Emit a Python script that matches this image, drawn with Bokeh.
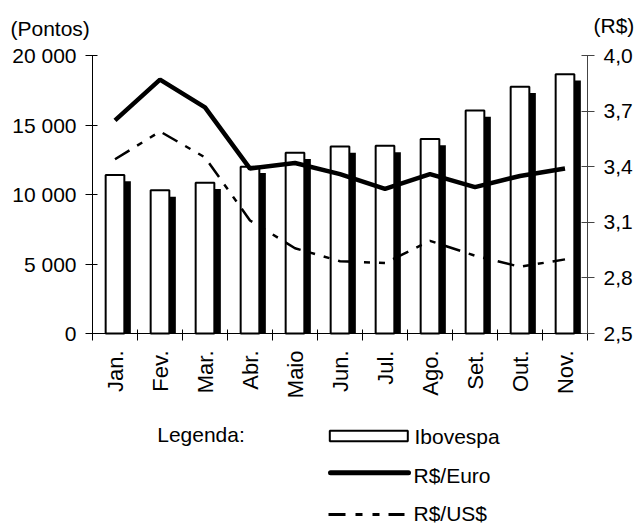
import math
from bokeh.plotting import figure
from bokeh.models import Range1d, LinearAxis, FixedTicker, Label
from bokeh.embed import file_html
from bokeh.resources import INLINE

# ---- data ----
months = ["Jan.", "Fev.", "Mar.", "Abr.", "Maio", "Jun.", "Jul.", "Ago.", "Set.", "Out.", "Nov."]
ibovespa = [11400, 10300, 10850, 12000, 13000, 13450, 13500, 14000, 16050, 17750, 18650]
rs_euro = [3.65, 3.87, 3.72, 3.39, 3.42, 3.36, 3.28, 3.36, 3.29, 3.35, 3.39]
rs_usd = [3.44, 3.59, 3.45, 3.11, 2.96, 2.89, 2.88, 3.00, 2.92, 2.86, 2.90]
left_ticks = [0, 5000, 10000, 15000, 20000]
left_labels = ["0", "5 000", "10 000", "15 000", "20 000"]
right_ticks = [2.5, 2.8, 3.1, 3.4, 3.7, 4.0]
right_labels = ["2,5", "2,8", "3,1", "3,4", "3,7", "4,0"]

FONT = "Liberation Sans"
FS = "21px"
W, H = 638, 523

# plot area in page pixels
PL, PR, PT, PB = 92, 587, 55, 333
n = len(months)
x = [i + 0.5 for i in range(n)]
boundaries = list(range(n + 1))

# the frame covers the whole canvas; axes are fixed at the plot-area edges
px_per_x = (PR - PL) / n
ly0, ly1 = left_ticks[0], left_ticks[-1]
px_per_ly = (PB - PT) / (ly1 - ly0)
ry0, ry1 = right_ticks[0], right_ticks[-1]
px_per_ry = (PB - PT) / (ry1 - ry0)

p = figure(width=W, height=H,
           x_range=Range1d(-PL / px_per_x, (W - PL) / px_per_x),
           y_range=Range1d(ly0 - (H - PB) / px_per_ly, ly0 + PB / px_per_ly),
           output_backend="svg", toolbar_location=None,
           x_axis_location=None, y_axis_location=None, min_border=0)
p.extra_y_ranges = {"rs": Range1d(ry0 - (H - PB) / px_per_ry, ry0 + PB / px_per_ry),
                    "py": Range1d(H, 0)}
p.extra_x_ranges = {"px": Range1d(0, W)}
p.xgrid.visible = False
p.ygrid.visible = False
p.outline_line_color = None
p.background_fill_color = "white"
p.border_fill_color = "white"

# shadow bars (offset ~6px right and down)
shadow_dx = 5.5 / px_per_x
shadow_dy = 6.3 / px_per_ly
p.vbar(x=[v + shadow_dx for v in x], top=[v - shadow_dy for v in ibovespa], bottom=0,
       width=0.46, fill_color="black", line_color=None)
# white bars
p.vbar(x=x, top=ibovespa, bottom=0, width=0.415, fill_color="white",
       line_color="black", line_width=2)

# lines
p.line(x, rs_usd, y_range_name="rs", line_color="black", line_width=2.5,
       line_dash="17 9 6 9 6 9")
p.line(x, rs_euro, y_range_name="rs", line_color="black", line_width=4.5)

# bottom axis
xa = LinearAxis(fixed_location=0, bounds=(0, n))
xa.ticker = FixedTicker(ticks=x, minor_ticks=boundaries)
xa.major_label_overrides = dict(zip(x, months))
xa.major_tick_line_color = None
xa.major_tick_in = 0
xa.major_tick_out = 7
xa.minor_tick_line_color = "black"
xa.minor_tick_in = 4
xa.minor_tick_out = 7
xa.major_label_orientation = math.pi / 2
xa.major_label_standoff = 10
xa.major_label_text_font = FONT
xa.major_label_text_font_size = "22px"
xa.major_label_text_color = "black"
xa.axis_line_color = "black"
p.add_layout(xa, "below")

# left axis
ya = LinearAxis(fixed_location=0, bounds=(ly0, ly1))
ya.ticker = FixedTicker(ticks=left_ticks)
ya.major_label_overrides = dict(zip(left_ticks, left_labels))
ya.major_tick_in = 5
ya.major_tick_out = 7
ya.minor_tick_line_color = None
ya.major_label_standoff = 9
ya.major_label_text_font = FONT
ya.major_label_text_font_size = FS
ya.major_label_text_color = "black"
ya.axis_line_color = "black"
ya.major_tick_line_color = "black"
p.add_layout(ya, "left")

# right axis
ra = LinearAxis(y_range_name="rs", fixed_location=n, bounds=(ry0, ry1))
ra.ticker = FixedTicker(ticks=right_ticks)
ra.major_label_overrides = dict(zip(right_ticks, right_labels))
ra.major_tick_in = 6
ra.major_tick_out = 7
ra.minor_tick_line_color = None
ra.major_label_standoff = 9
ra.major_label_text_font = FONT
ra.major_label_text_font_size = FS
ra.major_label_text_color = "black"
ra.axis_line_color = "#444444"
ra.major_tick_line_color = "#444444"
p.add_layout(ra, "right")


def txt(xp, yp, t):
    p.add_layout(Label(x=xp, y=yp, x_range_name="px", y_range_name="py", text=t,
                       text_font=FONT, text_font_size=FS, text_color="black",
                       text_align="left", text_baseline="alphabetic"))


# axis unit titles
txt(10, 28, "(Pontos)")
txt(593, 24.7, "(R$)")

# legend
p.quad(left=329.3, right=407.3, top=430.3, bottom=440.7, x_range_name="px", y_range_name="py",
       fill_color="white", line_color="black", line_width=2)
p.line([330, 408], [472.3, 472.3], x_range_name="px", y_range_name="py",
       line_color="black", line_width=5, line_cap="round")
p.line([328, 404], [514, 514], x_range_name="px", y_range_name="py",
       line_color="black", line_width=3, line_dash="17 10 7 10 7 9")
txt(156.7, 433.7, "Legenda:")
txt(414, 436.3, "Ibovespa")
txt(413, 475.3, "R$/Euro")
txt(413, 512.5, "R$/US$")

open("out.html", "w").write(file_html(p, INLINE))
